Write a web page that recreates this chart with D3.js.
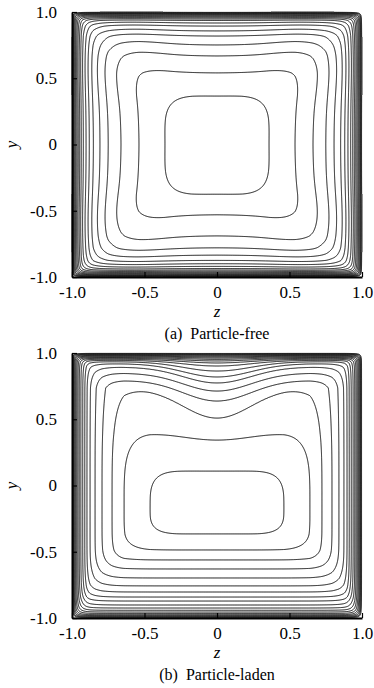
<!DOCTYPE html>
<html>
<head>
<meta charset="utf-8">
<script src="https://cdn.jsdelivr.net/npm/d3@7"></script>
<style>
  body { margin: 0; background: #fff; }
  svg { display: block; }
  text { font-family: "Liberation Serif", "Times New Roman", serif; fill: #000; }
</style>
</head>
<body>
<svg id="chart" width="374" height="688"></svg>
<script>
// Tick positions shared by both panels (z and y axes)
const axisTicks = [-1, -0.5, 0, 0.5, 1];

// Iso-velocity lines of the streamwise velocity in the duct cross-section.
// Each array lists, innermost line first, the distance from a wall (in duct
// half-widths) at which successive lines cross the mid-plane normal to it.

// (a) particle-free flow
const freeTopWall    = [0.634, 0.46, 0.332, 0.249, 0.181, 0.143, 0.106, 0.083, 0.064, 0.053, 0.044, 0.036, 0.029, 0.023, 0.018, 0.013, 0.009, 0.006, 0.003];
const freeBottomWall = [0.624, 0.47, 0.31, 0.22, 0.165, 0.125, 0.10, 0.08, 0.064, 0.053, 0.044, 0.036, 0.029, 0.023, 0.018, 0.013, 0.009, 0.006, 0.003];
const freeSideWall   = [0.641, 0.462, 0.338, 0.25, 0.193, 0.147, 0.119, 0.097, 0.078, 0.064, 0.053, 0.043, 0.035, 0.027, 0.021, 0.015, 0.01, 0.0065, 0.003];

// (b) particle-laden flow: the lines near the top wall dip at z = 0
const ladenTopCentre = [0.891, 0.657, 0.491, 0.362, 0.287, 0.226, 0.181, 0.136, 0.098, 0.075, 0.06, 0.048, 0.038, 0.03, 0.023, 0.017, 0.012, 0.007, 0.0035];
const ladenTopOuter  = [0.891, 0.60, 0.264, 0.204, 0.15, 0.105, 0.08, 0.065, 0.055, 0.047, 0.04, 0.034, 0.028, 0.023, 0.018, 0.013, 0.009, 0.006, 0.003];
const ladenBottomWall = [0.634, 0.513, 0.438, 0.37, 0.302, 0.242, 0.196, 0.158, 0.128, 0.098, 0.075, 0.058, 0.045, 0.034, 0.025, 0.018, 0.012, 0.007, 0.0035];
const ladenSideWall  = [0.538, 0.359, 0.276, 0.207, 0.159, 0.124, 0.103, 0.088, 0.074, 0.061, 0.05, 0.041, 0.033, 0.026, 0.02, 0.015, 0.01, 0.0065, 0.003];

const captions = ["(a)  Particle-free", "(b)  Particle-laden"];

const svg = d3.select("#chart");
const GRID = 420;            // samples per side of the cross-section
const SOFT = 4;              // exponent blending the four wall contributions

const fmt = d => d === 0 ? "0" : d.toFixed(1);

// Piecewise-linear map from wall distance to line index (0 at the core, N+1 on the wall)
function indexScale(anchor, crossings) {
  const dom = [anchor, ...crossings, 0];
  return d3.scaleLinear().domain(dom).range(d3.range(dom.length)).clamp(true);
}

function buildField(p) {
  const N = p.sideWall.length;
  const vals = new Float64Array(GRID * GRID);
  const sideS = indexScale(p.sideAnchor, p.sideWall);
  const botS = indexScale(p.bottomAnchor, p.bottomWall);
  for (let i = 0; i < GRID; i++) {
    const z = -1 + (i + 0.5) * 2 / GRID;
    // crossings of the top-wall lines for this column (blend toward the centre profile near z = 0)
    const g = p.dipWidth ? Math.exp(-((z / p.dipWidth) ** 2)) : 0;
    const topC = p.topCentre.map((c, k) => p.topOuter[k] + (c - p.topOuter[k]) * g);
    const topS = indexScale(p.topAnchor, topC);
    for (let j = 0; j < GRID; j++) {
      const y = 1 - (j + 0.5) * 2 / GRID;
      const a = topS(1 - y), b = botS(1 + y), l = sideS(1 + z), r = sideS(1 - z);
      let L = Math.pow(a ** SOFT + b ** SOFT + l ** SOFT + r ** SOFT, 1 / SOFT);
      if (p.cornerBulge) {
        const dz = Math.abs(z) - 0.6, dy = Math.abs(y) - 0.6;
        const bump = Math.exp(-(dz * dz + dy * dy) / 0.08);
        L *= 1 - p.cornerBulge * bump;
      }
      vals[i + j * GRID] = N + 1 - L;
    }
  }
  return { vals, N };
}

const panels = [
  { y0: 12, y1: 277, caption: captions[0],
    topCentre: freeTopWall, topOuter: freeTopWall, bottomWall: freeBottomWall, sideWall: freeSideWall,
    topAnchor: 1.0, bottomAnchor: 1.0, sideAnchor: 1.0, dipWidth: 0, cornerBulge: 0.15 },
  { y0: 353, y1: 618, caption: captions[1],
    topCentre: ladenTopCentre, topOuter: ladenTopOuter, bottomWall: ladenBottomWall, sideWall: ladenSideWall,
    topAnchor: 1.2, bottomAnchor: 0.85, sideAnchor: 0.85, dipWidth: 0.33, cornerBulge: 0 }
];

const x = d3.scaleLinear().domain([-1, 1]).range([72, 362]);

panels.forEach(p => {
  const yS = d3.scaleLinear().domain([-1, 1]).range([p.y1, p.y0]);
  const { vals, N } = buildField(p);
  const sets = d3.contours().size([GRID, GRID]).thresholds(d3.range(1, N + 1))(vals);
  const proj = d3.geoTransform({
    point(gx, gy) { this.stream.point(x(-1 + 2 * gx / GRID), yS(1 - 2 * gy / GRID)); }
  });
  const path = d3.geoPath(proj);
  const g = svg.append("g");

  g.append("g").selectAll("path").data(sets).join("path")
    .attr("d", path)
    .attr("fill", "none")
    .attr("stroke", "#111")
    .attr("stroke-width", 1.0);

  const ax = g.append("g").attr("transform", `translate(0,${p.y1})`)
    .call(d3.axisBottom(x).tickValues(axisTicks).tickFormat(fmt).tickSize(-5).tickSizeOuter(0).tickPadding(9));
  const ay = g.append("g").attr("transform", `translate(${x(-1)},0)`)
    .call(d3.axisLeft(yS).tickValues(axisTicks).tickFormat(fmt).tickSize(-5).tickSizeOuter(0).tickPadding(15));
  [ax, ay].forEach(a => {
    a.attr("font-family", null).attr("font-size", 17);
    a.select(".domain").attr("stroke", "#000").attr("stroke-width", 2);
    a.selectAll(".tick line").attr("stroke", "#000").attr("stroke-width", 1.2);
  });

  g.append("text").attr("x", x(0)).attr("y", p.y1 + 40)
    .attr("text-anchor", "middle").attr("font-size", 17).attr("font-style", "italic").text("z");
  g.append("text").attr("transform", `translate(17,${yS(0)}) rotate(-90)`)
    .attr("text-anchor", "middle").attr("font-size", 17).attr("font-style", "italic").text("y");
  g.append("text").attr("x", x(0)).attr("y", p.y1 + 62)
    .attr("text-anchor", "middle").attr("font-size", 16).style("white-space", "pre").text(p.caption);
});
</script>
</body>
</html>
